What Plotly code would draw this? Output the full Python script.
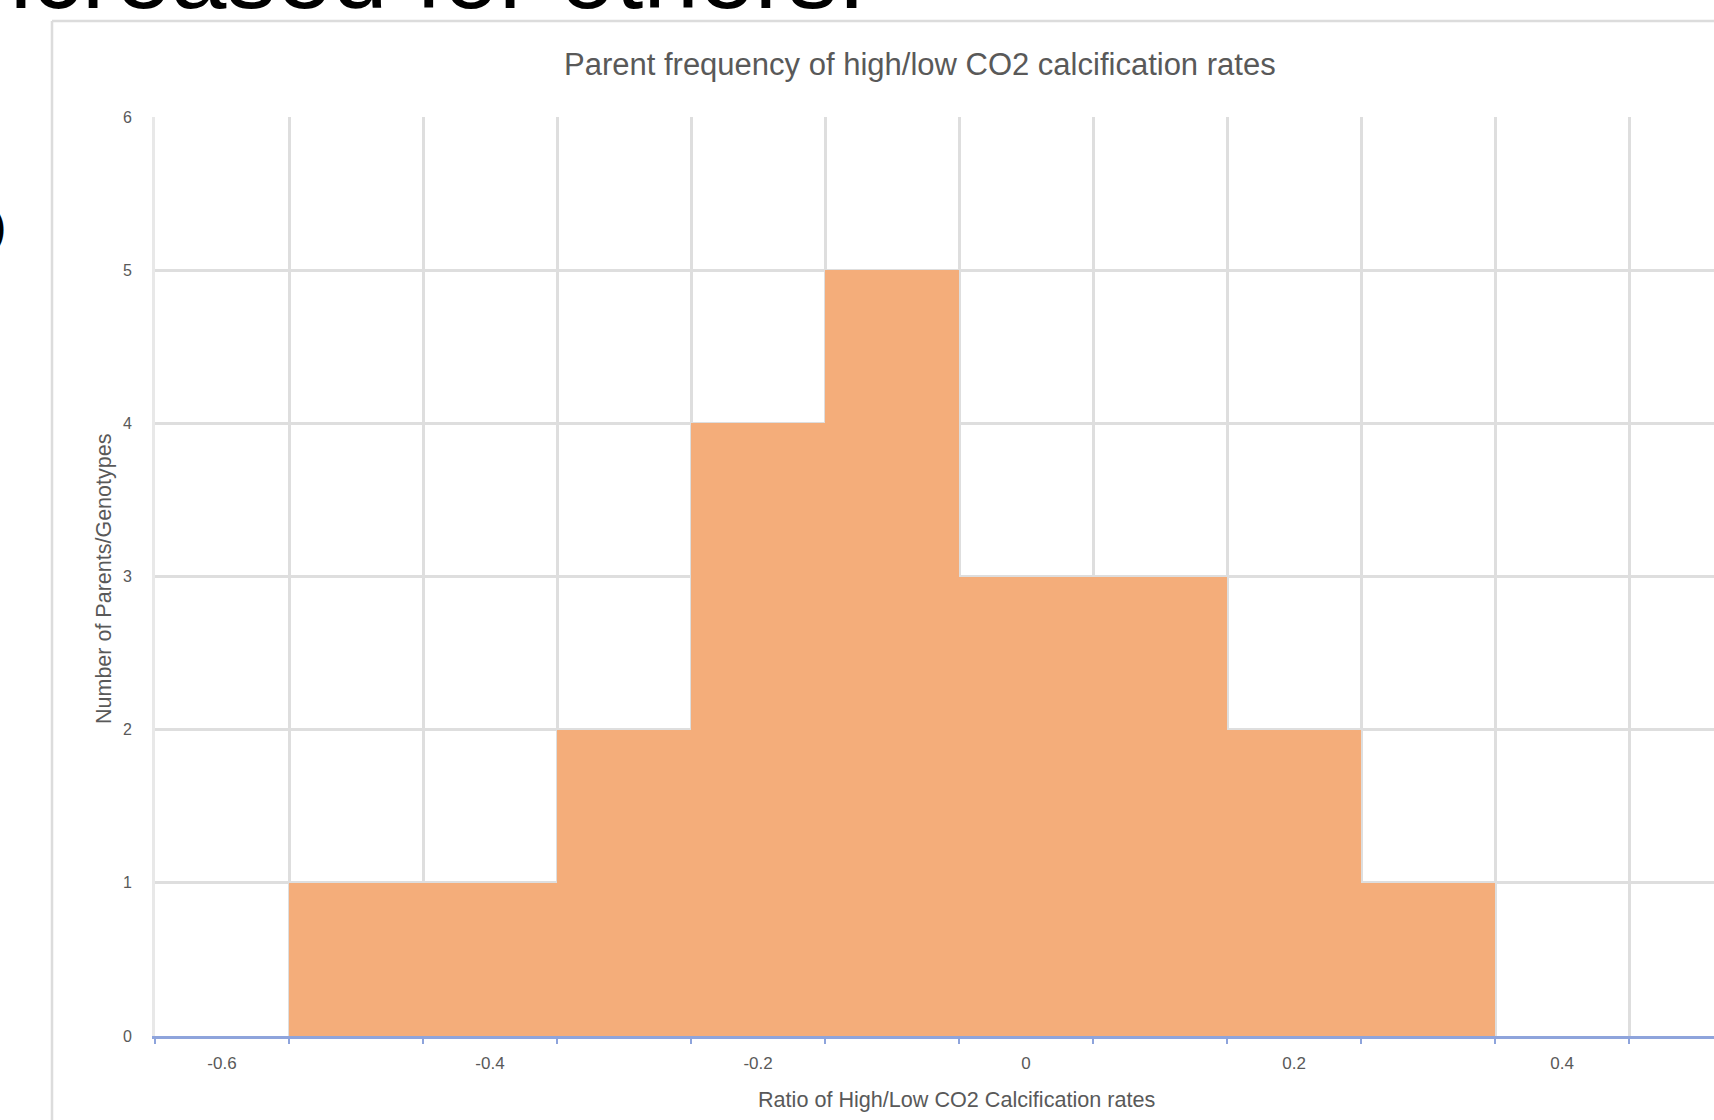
import plotly.graph_objects as go
import numpy as np

# ---- data ----
bin_centers = [-0.5, -0.4, -0.3, -0.2, -0.1, 0.0, 0.1, 0.2, 0.3]
counts = [1, 1, 2, 4, 5, 3, 3, 2, 1]
x_tick_vals = [-0.6, -0.4, -0.2, 0.0, 0.2, 0.4]
x_tick_text = ["-0.6", "-0.4", "-0.2", "0", "0.2", "0.4"]
y_tick_vals = [0, 1, 2, 3, 4, 5, 6]

title_text = "Parent frequency of high/low CO2 calcification rates"
x_title = "Ratio of High/Low CO2 Calcification rates"
y_title = "Number of Parents/Genotypes"
slide_text = "increased for others."

# ---- layout geometry (pixels) ----
W, H = 1714, 1120
L, R, T, B = 155, 0, 117, 84
PW, PH = W - L - R, H - T - B

def px(x):
    return (x - L) / PW

def py(y):
    return (H - B - y) / PH

bin_w = 0.1
grid_x = [round(v, 2) for v in np.arange(-0.65, 0.56, 0.1)]

FONT = "Liberation Sans, Arial, sans-serif"
GRAY = "#595959"
GRID = "#dedede"

fig = go.Figure()
fig.add_trace(go.Bar(
    x=bin_centers, y=counts, width=[bin_w] * len(counts),
    marker=dict(color="#F4AD7A", line=dict(width=0)),
    hoverinfo="x+y",
))

fig.update_layout(
    width=W, height=H,
    margin=dict(l=L, r=R, t=T, b=B, pad=0),
    paper_bgcolor="white", plot_bgcolor="white",
    showlegend=False, bargap=0,
    font=dict(family=FONT, color=GRAY),
    xaxis=dict(
        range=[-0.65, 0.5134],
        tickmode="array", tickvals=x_tick_vals, ticktext=x_tick_text,
        showgrid=False, zeroline=False,
        showline=True, linecolor="#8EA4DC", linewidth=3,
        ticks="", ticklabelstandoff=10,
        tickfont=dict(family=FONT, size=17, color=GRAY),
        minor=dict(tickmode="array", tickvals=grid_x, showgrid=True,
                   gridcolor=GRID, gridwidth=2.5,
                   ticks="outside", ticklen=5, tickcolor="#8EA4DC", tickwidth=2),
        fixedrange=True,
    ),
    yaxis=dict(
        range=[0, 6], tickmode="array", tickvals=y_tick_vals,
        showgrid=True, gridcolor=GRID, gridwidth=2.5,
        zeroline=False, showline=True, linecolor="#e8e8e8", linewidth=3,
        ticks="", ticklabelstandoff=17,
        tickfont=dict(family=FONT, size=16, color=GRAY),
        fixedrange=True,
    ),
    shapes=[
        dict(type="line", xref="paper", yref="paper",
             x0=px(52), x1=px(W + 10), y0=py(21), y1=py(21),
             line=dict(color="#dcdcdc", width=2.5)),
        dict(type="line", xref="paper", yref="paper",
             x0=px(52), x1=px(52), y0=py(21), y1=py(H + 10),
             line=dict(color="#dcdcdc", width=2.5)),
    ],
    annotations=[
        dict(text=title_text, xref="paper", yref="paper",
             x=px(920), y=py(64), xanchor="center", yanchor="middle",
             showarrow=False, font=dict(family=FONT, size=31, color=GRAY)),
        dict(text=x_title, xref="paper", yref="paper",
             x=px(956), y=py(1099), xanchor="center", yanchor="middle",
             showarrow=False, font=dict(family=FONT, size=21.6, color=GRAY)),
        dict(text=y_title, xref="paper", yref="paper", textangle=-90,
             x=px(104), y=py(579), xanchor="center", yanchor="middle",
             showarrow=False, font=dict(family=FONT, size=21.5, color=GRAY)),
        dict(text=slide_text, xref="paper", yref="paper",
             x=px(-48), y=py(31), xanchor="left", yanchor="bottom",
             showarrow=False, font=dict(family=FONT, size=100, color="black")),
        dict(text=")", xref="paper", yref="paper",
             x=px(-11), y=py(226), xanchor="left", yanchor="middle",
             showarrow=False, font=dict(family=FONT, size=46, color="black")),
    ],
)

fig.write_html("out.html", config={"displayModeBar": False},
               post_script="document.body.style.margin='0px';document.body.style.overflow='hidden';")
